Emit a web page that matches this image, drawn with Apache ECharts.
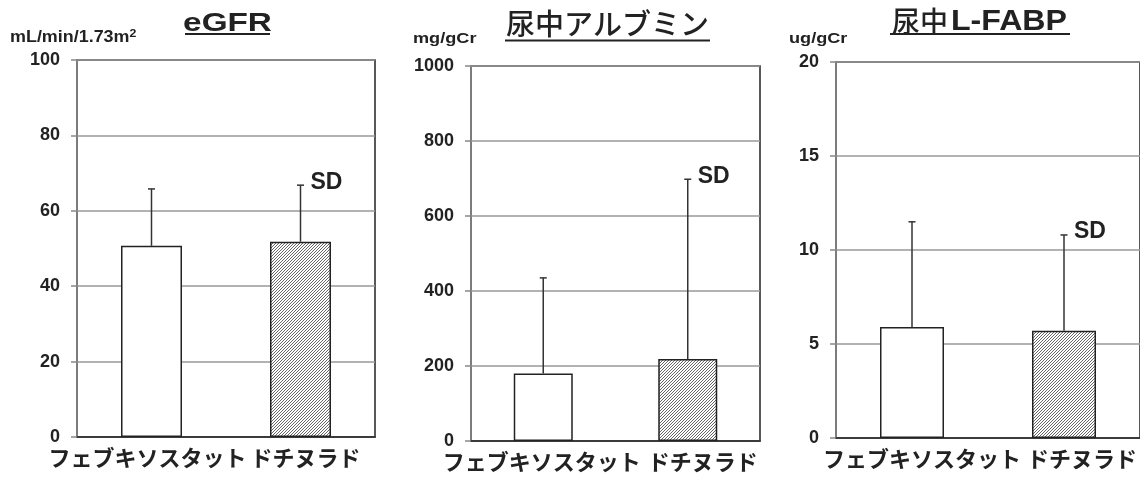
<!DOCTYPE html>
<html>
<head>
<meta charset="utf-8">
<script src="https://cdn.jsdelivr.net/npm/echarts@6/dist/echarts.min.js"></script>
<style>
  html, body { margin: 0; padding: 0; background: #fff; }
  #chart { width: 1140px; height: 479px; }
</style>
</head>
<body>
<div id="chart"></div>
<script>
// Treatment groups shown on every panel
const categories = ['フェブキソスタット', 'ドチヌラド'];

// eGFR (mL/min/1.73m2): mean and SD
const egfrMean = [50.7, 51.8];
const egfrSD = [15.1, 15.0];

// Urinary albumin (mg/gCr): mean and SD
const albMean = [180, 219];
const albSD = [255, 479];

// Urinary L-FABP (ug/gCr): mean and SD
const fabpMean = [5.9, 5.7];
const fabpSD = [5.6, 5.1];

// Y axis ranges [min, max, interval]
const egfrAxis = [0, 100, 20];
const albAxis = [0, 1000, 200];
const fabpAxis = [0, 20, 5];

const LATIN = '"Liberation Sans", Arial, "Noto Sans CJK JP", sans-serif';
const CJK = '"Noto Sans CJK JP", "Liberation Sans", sans-serif';
const INK = '#222';

// fine diagonal hatch fill for the second group
function hatch() {
  const s = 3;
  const c = document.createElement('canvas');
  c.width = s; c.height = s;
  const g = c.getContext('2d');
  g.fillStyle = '#fff';
  g.fillRect(0, 0, s, s);
  g.strokeStyle = '#666';
  g.lineWidth = 1;
  g.beginPath();
  g.moveTo(0, s); g.lineTo(s, 0);
  g.moveTo(-1, 1); g.lineTo(1, -1);
  g.moveTo(s - 1, s + 1); g.lineTo(s + 1, s - 1);
  g.stroke();
  return c;
}
const hatchFill = { image: hatch(), repeat: 'repeat' };

// the third plot area runs on past the right edge of the page
const grids = [
  { left: 77, top: 60, width: 298, height: 377 },
  { left: 471, top: 66, width: 289, height: 375 },
  { left: 836, top: 62, width: 312, height: 376 }
];
const barWidths = [61, 59, 64];
// horizontal nudges of the two category labels in each panel
const labelPads = [
  { a: [0, 8, 0, 0], b: [0, 0, 0, 10] },
  { a: [0, 3, 0, 0], b: [0, 0, 0, 30] },
  { a: [0, 0, 0, 20], b: [0, 0, 0, 36] }
];
const panels = [
  { mean: egfrMean, sd: egfrSD, axis: egfrAxis },
  { mean: albMean, sd: albSD, axis: albAxis },
  { mean: fabpMean, sd: fabpSD, axis: fabpAxis }
];

// one-sided SD whisker with a short cap; "SD" tag beside the second group
function errorItem(params, api) {
  const i = api.value(0), m = api.value(1), s = api.value(2);
  const base = api.coord([i, m]);
  const top = api.coord([i, m + s]);
  const stroke = { stroke: '#333', lineWidth: 1.5 };
  const children = [
    { type: 'line', shape: { x1: base[0], y1: base[1], x2: top[0], y2: top[1] }, style: stroke },
    { type: 'line', shape: { x1: top[0] - 3.5, y1: top[1], x2: top[0] + 3.5, y2: top[1] }, style: stroke }
  ];
  if (params.dataIndex === 1) {
    children.push({
      type: 'text', x: top[0] + 10, y: top[1] - 3,
      style: { text: 'SD', font: 'bold 23px ' + LATIN, fill: INK,
               align: 'left', verticalAlign: 'middle' }
    });
  }
  return { type: 'group', children };
}

const catLabel = { fontSize: 22, fontWeight: 'bold', fontFamily: CJK, color: INK };

const option = {
  animation: false,
  backgroundColor: '#fff',
  grid: grids.map(g => Object.assign({ show: true, borderColor: '#222', borderWidth: 1.5, backgroundColor: 'transparent' }, g)),
  xAxis: panels.map((p, k) => ({
    type: 'category', gridIndex: k, data: categories,
    axisLine: { lineStyle: { color: '#222', width: 1.5 } },
    axisTick: { show: false },
    axisLabel: Object.assign({
      interval: 0, margin: 10, hideOverlap: false,
      formatter: (v, i) => (i === 0 ? '{a|' + v + '}' : '{b|' + v + '}'),
      rich: {
        a: Object.assign({ padding: labelPads[k].a }, catLabel),
        b: Object.assign({ padding: labelPads[k].b }, catLabel)
      }
    }, catLabel)
  })),
  yAxis: panels.map((p, k) => ({
    type: 'value', gridIndex: k,
    min: p.axis[0], max: p.axis[1], interval: p.axis[2],
    axisLine: { show: true, lineStyle: { color: '#888', width: 1.5 } },
    axisTick: { show: true, length: 6, lineStyle: { color: '#888', width: 1.5 } },
    splitLine: { show: true, lineStyle: { color: '#999', width: 1.5 } },
    axisLabel: { margin: 17, color: INK, fontSize: 18, fontWeight: 'bold', fontFamily: LATIN,
                 formatter: v => String(v) }
  })),
  series: [].concat(...panels.map((p, k) => [
    {
      type: 'bar', xAxisIndex: k, yAxisIndex: k, barWidth: barWidths[k],
      data: p.mean.map((v, i) => ({
        value: v,
        itemStyle: { color: i === 0 ? '#fff' : hatchFill, borderColor: '#222', borderWidth: 1.5 }
      }))
    },
    {
      type: 'custom', xAxisIndex: k, yAxisIndex: k, z: 5,
      renderItem: errorItem,
      encode: { x: 0, y: 1 },
      data: p.mean.map((v, i) => [i, v, p.sd[i]])
    }
  ])),
  graphic: [
    // panel titles
    { type: 'text', x: 227.5, y: 24, scaleX: 1.28,
      style: { text: 'eGFR', font: 'bold 26px ' + LATIN, fill: INK, align: 'center', verticalAlign: 'middle' } },
    { type: 'text', x: 607.5, y: 24,
      style: { text: '尿中アルブミン', font: '500 29px ' + CJK, fill: INK, align: 'center', verticalAlign: 'middle' } },
    { type: 'text', x: 892, y: 21,
      style: { text: '尿中', font: '500 28px ' + CJK, fill: INK, align: 'left', verticalAlign: 'middle' } },
    { type: 'text', x: 951, y: 22, scaleX: 1.07,
      style: { text: 'L-FABP', font: 'bold 30px ' + LATIN, fill: INK, align: 'left', verticalAlign: 'middle' } },
    // title underlines
    { type: 'line', shape: { x1: 185, y1: 34, x2: 270, y2: 34 }, style: { stroke: INK, lineWidth: 2 } },
    { type: 'line', shape: { x1: 505, y1: 40.5, x2: 710, y2: 40.5 }, style: { stroke: INK, lineWidth: 2 } },
    { type: 'line', shape: { x1: 890, y1: 34, x2: 1070, y2: 34 }, style: { stroke: INK, lineWidth: 2 } },
    // unit labels
    { type: 'text', x: 10, y: 38, scaleX: 1.12,
      style: { text: 'mL/min/1.73m{sup|2}', font: 'bold 16px ' + LATIN, fill: INK, align: 'left', verticalAlign: 'middle',
               rich: { sup: { font: 'bold 11px ' + LATIN, fill: INK, padding: [0, 0, 9, 0] } } } },
    { type: 'text', x: 413, y: 39, scaleX: 1.25,
      style: { text: 'mg/gCr', font: 'bold 14.5px ' + LATIN, fill: INK, align: 'left', verticalAlign: 'middle' } },
    { type: 'text', x: 789, y: 39, scaleX: 1.25,
      style: { text: 'ug/gCr', font: 'bold 14.5px ' + LATIN, fill: INK, align: 'left', verticalAlign: 'middle' } }
  ]
};

const chart = echarts.init(document.getElementById('chart'), null, { renderer: 'canvas' });
chart.setOption(option);
</script>
</body>
</html>
